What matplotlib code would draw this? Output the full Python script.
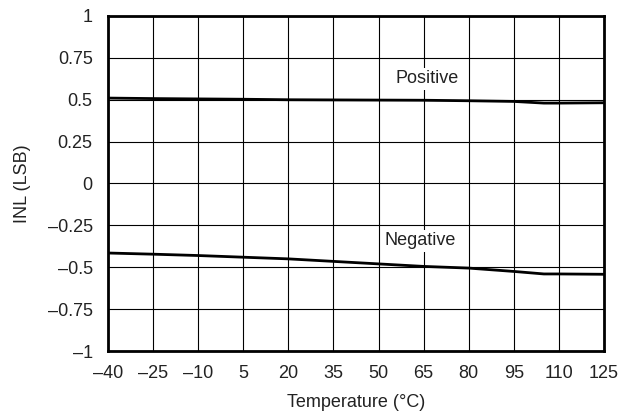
import numpy as np
import matplotlib
matplotlib.use("Agg")
import matplotlib.pyplot as plt

plt.rcParams['font.family'] = ['Liberation Sans', 'DejaVu Sans']

# data
temp = [-40, -25, -10, 5, 20, 35, 50, 65, 80, 95, 105, 110, 125]
inl_pos = [0.51, 0.507, 0.505, 0.503, 0.50, 0.499, 0.498, 0.497, 0.494, 0.49, 0.48, 0.48, 0.482]
inl_neg = [-0.415, -0.422, -0.43, -0.44, -0.45, -0.465, -0.48, -0.495, -0.505, -0.525, -0.54, -0.54, -0.542]

xticks = [-40, -25, -10, 5, 20, 35, 50, 65, 80, 95, 110, 125]
yticks = [-1, -0.75, -0.5, -0.25, 0, 0.25, 0.5, 0.75, 1]

txt = '#222222'
fs = 13

fig = plt.figure(figsize=(6.32, 4.15), dpi=100)
ax = fig.add_axes([108/632, 1-351/415, 496/632, 335/415])

ax.plot(temp, inl_pos, color='black', lw=2)
ax.plot(temp, inl_neg, color='black', lw=2)

ax.set_xlim(-40, 125)
ax.set_ylim(-1, 1)
ax.set_xticks(xticks)
ax.set_yticks(yticks)
ax.set_xticklabels([str(t).replace('-', '\u2013') for t in xticks])
ax.set_yticklabels([('%g' % t).replace('-', '\u2013') for t in yticks])
ax.grid(True, color='black', lw=0.8)
ax.tick_params(axis='y', length=0, labelsize=fs, pad=11, colors=txt)
ax.tick_params(axis='x', length=0, labelsize=fs, pad=10, colors=txt)
for s in ax.spines.values():
    s.set_linewidth(2)

ax.text(66, 0.624, "Positive", ha='center', va='center', fontsize=fs,
        color=txt, bbox=dict(facecolor='white', edgecolor='none', pad=2))
ax.text(64, -0.343, "Negative", ha='center', va='center', fontsize=fs,
        color=txt, bbox=dict(facecolor='white', edgecolor='none', pad=2))

ax.set_xlabel("Temperature (\u00b0C)", fontsize=fs, color=txt)
ax.set_ylabel("INL (LSB)", fontsize=fs, color=txt)
ax.xaxis.set_label_coords(0.5, -0.127)
ax.yaxis.set_label_coords(-0.155, 0.5)

fig.savefig("out.png", dpi=100)
